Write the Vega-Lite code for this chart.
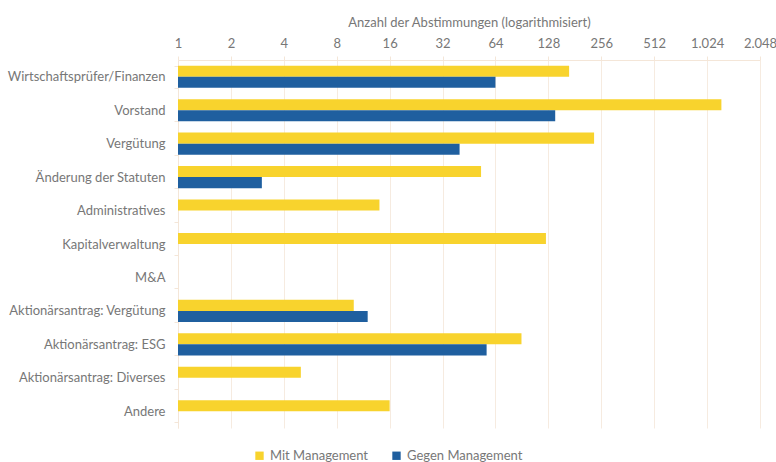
{
  "$schema": "https://vega.github.io/schema/vega-lite/v6.json",
  "width": 582,
  "height": 368,
  "autosize": "none",
  "padding": {"left": 178, "top": 60, "right": 16, "bottom": 34},
  "background": "white",
  "config": {
    "font": "Lato",
    "view": {"stroke": null}
  },
  "data": {
    "values": [
      {"kategorie": "Wirtschaftsprüfer/Finanzen", "serie": "Mit Management", "anzahl": 168},
      {"kategorie": "Wirtschaftsprüfer/Finanzen", "serie": "Gegen Management", "anzahl": 64},
      {"kategorie": "Vorstand", "serie": "Mit Management", "anzahl": 1235},
      {"kategorie": "Vorstand", "serie": "Gegen Management", "anzahl": 140},
      {"kategorie": "Vergütung", "serie": "Mit Management", "anzahl": 233},
      {"kategorie": "Vergütung", "serie": "Gegen Management", "anzahl": 40},
      {"kategorie": "Änderung der Statuten", "serie": "Mit Management", "anzahl": 53},
      {"kategorie": "Änderung der Statuten", "serie": "Gegen Management", "anzahl": 3},
      {"kategorie": "Administratives", "serie": "Mit Management", "anzahl": 14},
      {"kategorie": "Kapitalverwaltung", "serie": "Mit Management", "anzahl": 124},
      {"kategorie": "Aktionärsantrag: Vergütung", "serie": "Mit Management", "anzahl": 10},
      {"kategorie": "Aktionärsantrag: Vergütung", "serie": "Gegen Management", "anzahl": 12},
      {"kategorie": "Aktionärsantrag: ESG", "serie": "Mit Management", "anzahl": 90},
      {"kategorie": "Aktionärsantrag: ESG", "serie": "Gegen Management", "anzahl": 57},
      {"kategorie": "Aktionärsantrag: Diverses", "serie": "Mit Management", "anzahl": 5},
      {"kategorie": "Andere", "serie": "Mit Management", "anzahl": 16}
    ]
  },
  "mark": {"type": "bar"},
  "encoding": {
    "y": {
      "field": "kategorie",
      "type": "nominal",
      "scale": {
        "domain": ["Wirtschaftsprüfer/Finanzen", "Vorstand", "Vergütung", "Änderung der Statuten", "Administratives", "Kapitalverwaltung", "M&A", "Aktionärsantrag: Vergütung", "Aktionärsantrag: ESG", "Aktionärsantrag: Diverses", "Andere"],
        "paddingInner": 0.34,
        "paddingOuter": 0.17
      },
      "axis": {
        "title": null,
        "labelColor": "#777777",
        "labelFontSize": 13,
        "labelPadding": 9,
        "tickBand": "extent",
        "tickSize": 4,
        "tickColor": "#f4e6d8",
        "domainColor": "#f4e6d8",
        "grid": false
      }
    },
    "yOffset": {
      "field": "serie",
      "type": "nominal",
      "scale": {"domain": ["Mit Management", "Gegen Management"], "paddingInner": 0, "paddingOuter": 0}
    },
    "x": {
      "field": "anzahl",
      "type": "quantitative",
      "scale": {"type": "log", "base": 2, "domain": [1, 2048], "nice": false},
      "axis": {
        "orient": "top",
        "title": "Anzahl der Abstimmungen (logarithmisiert)",
        "titleColor": "#777777",
        "titleFontSize": 13,
        "titleFontWeight": "normal",
        "titlePadding": 8,
        "values": [1, 2, 4, 8, 16, 32, 64, 128, 256, 512, 1024, 2048],
        "labelExpr": "replace(format(datum.value, ','), ',', '.')",
        "labelColor": "#777777",
        "labelFontSize": 13,
        "labelPadding": 6,
        "labelFlush": false,
        "tickSize": 4,
        "tickColor": "#f4e6d8",
        "domainColor": "#f4e6d8",
        "gridColor": "#f6ebe0",
        "grid": true
      }
    },
    "x2": {"datum": 1},
    "color": {
      "field": "serie",
      "type": "nominal",
      "scale": {"domain": ["Mit Management", "Gegen Management"], "range": ["#f8d32d", "#1f5f9f"]},
      "legend": {
        "title": null,
        "orient": "none",
        "legendX": 75,
        "legendY": 389,
        "direction": "horizontal",
        "symbolType": "square",
        "symbolSize": 70,
        "symbolStrokeWidth": 0,
        "labelColor": "#777777",
        "labelFontSize": 13,
        "labelOffset": 4,
        "columnPadding": 21
      }
    }
  }
}
